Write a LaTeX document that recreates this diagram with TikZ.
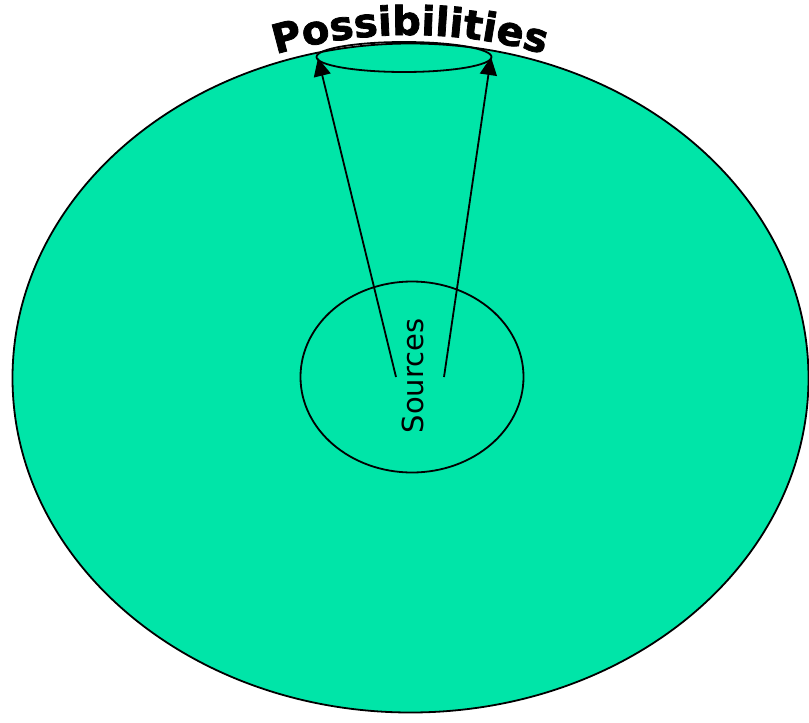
\documentclass[tikz,border=0pt]{standalone}
\usepackage{fontspec}
\usepackage{tikz}
\usetikzlibrary{shapes.geometric,arrows.meta,decorations.text}
\newfontfamily\labelfont{DejaVu Sans}
\newfontfamily\titlefont[FakeBold=2]{DejaVu Sans Bold}
\definecolor{spacegreen}{RGB}{0,229,168}

\begin{document}
\begin{tikzpicture}[x=1pt, y=-1pt, every node/.style={inner sep=0pt},
    region/.style={ellipse,draw,line width=1.8pt},
    reach/.style={-{Triangle[length=18pt,width=17pt]},line width=1.8pt}]
        \useasboundingbox (0,0) rectangle (809,723);
        \node[region,fill=spacegreen,minimum width=796pt,minimum height=669pt] (space) at (410.5,378) {};
        \node[region,minimum width=223pt,minimum height=191pt] (sources) at (412,377) {};
        \node[region,minimum width=175pt,minimum height=30pt] (poss) at (404,57) {};
        \node[rotate=90] (srclabel) at (413,376) {\labelfont\fontsize{29}{29}\selectfont Sources};
        \coordinate (srcl) at (396,377);
        \coordinate (srcr) at (444,377);
        \coordinate (possl) at (318,58);
        \coordinate (possr) at (491,57);
        \draw[reach] (srcl) -- (possl);
        \draw[reach] (srcr) -- (possr);
        % title bent along the outer rim
        \path[decorate,decoration={text along path,text align=center,
            text={|\titlefont\fontsize{40}{40}\selectfont|Possibilities}}]
            (410,378) ++(-122:406 and 343) arc[start angle=-122,end angle=-58,x radius=406,y radius=343];
    \end{tikzpicture}
\end{document}
